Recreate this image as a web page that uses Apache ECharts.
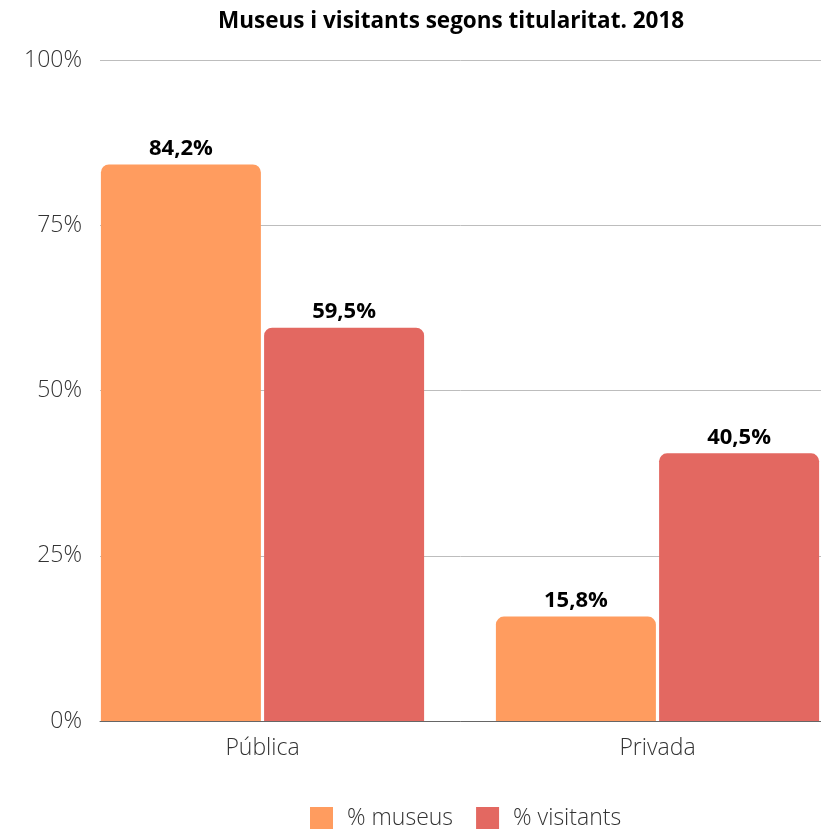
<!DOCTYPE html>
<html>
<head>
<meta charset="utf-8">
<script src="https://cdn.jsdelivr.net/npm/echarts@6/dist/echarts.min.js"></script>
<style>
  html, body { margin: 0; padding: 0; background: #fff; }
  #chart { width: 821px; height: 829px; }
</style>
</head>
<body>
<div id="chart"></div>
<script>
  var categories = ['Pública', 'Privada'];
  var seriesNames = ['% museus', '% visitants'];
  var museus = [84.2, 15.8];
  var visitants = [59.5, 40.5];
  var yTicks = [0, 25, 50, 75, 100];

  var font = '"Open Sans", "DejaVu Sans", sans-serif';

  function pct(p) {
    return p.value.toFixed(1).replace('.', ',') + '%';
  }

  var barLabel = {
    show: true,
    position: 'top',
    distance: 5,
    formatter: pct,
    fontFamily: font,
    fontWeight: 'bold',
    fontSize: 22,
    color: '#000'
  };

  var option = {
    animation: false,
    backgroundColor: '#fff',
    title: {
      text: 'Museus i visitants segons titularitat. 2018',
      left: 213,
      top: 5,
      textStyle: { fontFamily: font, fontWeight: 'bold', fontSize: 22.5, color: '#000' }
    },
    legend: {
      data: seriesNames,
      left: 305,
      top: 802,
      icon: 'rect',
      itemWidth: 23,
      itemHeight: 23,
      itemGap: 23,
      textStyle: { fontFamily: font, fontWeight: 300, fontSize: 23, color: '#333', padding: [0, 0, 0, 9] }
    },
    grid: [
      // gridlines + y labels
      { left: 100, right: 0, top: 60, bottom: 108, outerBoundsMode: 'none' },
      // bars (wider so the groups fill the plot edge to edge)
      { left: 65, right: -34, top: 60, bottom: 108, outerBoundsMode: 'none' }
    ],
    xAxis: [
      {
        gridIndex: 0,
        type: 'category',
        data: categories,
        axisLine: { show: true, lineStyle: { color: '#666', width: 1 } },
        axisTick: { show: false },
        axisLabel: { show: false },
        splitLine: { show: false }
      },
      {
        gridIndex: 1,
        type: 'category',
        data: categories,
        axisLine: { show: false },
        axisTick: { show: false },
        axisLabel: { margin: 16, fontFamily: font, fontWeight: 300, fontSize: 23, color: '#333' }
      }
    ],
    yAxis: [
      {
        gridIndex: 0,
        type: 'value',
        min: yTicks[0],
        max: yTicks[yTicks.length - 1],
        interval: 25,
        axisLine: { show: false },
        axisTick: { show: false },
        axisLabel: { margin: 18, formatter: '{value}%', fontFamily: font, fontWeight: 300, fontSize: 23, color: '#333' },
        splitLine: { lineStyle: { color: '#bdbdbd', width: 1 } }
      },
      {
        gridIndex: 1,
        type: 'value',
        min: 0,
        max: 100,
        show: false,
        splitLine: { show: false }
      }
    ],
    series: [
      {
        name: seriesNames[0],
        type: 'bar',
        xAxisIndex: 1,
        yAxisIndex: 1,
        data: museus,
        barWidth: 160,
        barGap: '2%',
        itemStyle: { color: '#ff9c5f', borderRadius: [8, 8, 0, 0] },
        label: barLabel
      },
      {
        name: seriesNames[1],
        type: 'bar',
        xAxisIndex: 1,
        yAxisIndex: 1,
        data: visitants,
        barWidth: 160,
        barGap: '2%',
        itemStyle: { color: '#e36861', borderRadius: [8, 8, 0, 0] },
        label: barLabel
      }
    ]
  };

  echarts.init(document.getElementById('chart')).setOption(option);
</script>
</body>
</html>
